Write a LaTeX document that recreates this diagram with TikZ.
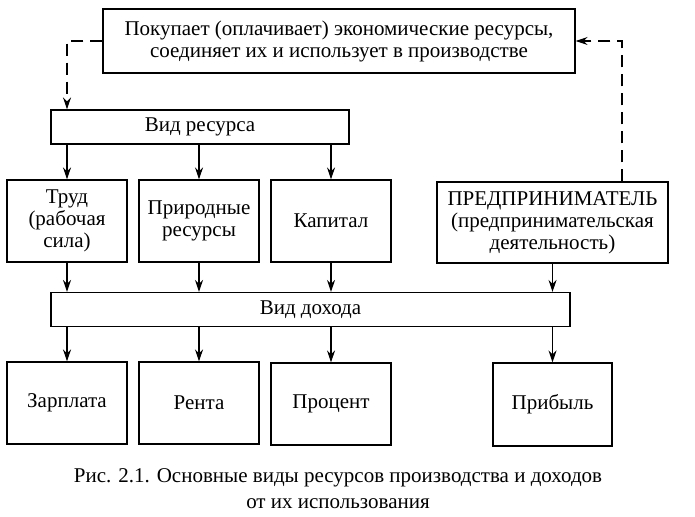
\documentclass[tikz,border=0pt]{standalone}
\usepackage{fontspec}
\setmainfont{Liberation Serif}
\usetikzlibrary{arrows.meta}
\tikzset{
  blok/.style={draw=black, line width=1.1pt, align=center, inner sep=0pt},
  strelka/.style={black, line width=1.1pt, -{Stealth[length=12pt,width=8pt]}},
  punktir/.style={black, line width=1.1pt, dash pattern=on 12pt off 7pt, -{Stealth[length=12pt,width=8pt]}}
}
\begin{document}
\begin{tikzpicture}[x=1pt, y=-1pt, font=\fontsize{21}{22}\selectfont]
\useasboundingbox (0,0) rectangle (695,516);
% verkhnii blok
\node[blok, minimum width=472pt, minimum height=64pt] (pokup) at (339,41)
  {Покупает (оплачивает) экономические ресурсы,\\соединяет их и использует в производстве};
\node[blok, minimum width=298pt, minimum height=34pt] (vidres) at (200,127) {Вид ресурса};
% resursy
\node[blok, minimum width=120pt, minimum height=82pt] (trud) at (67,221) {Труд\\(рабочая\\сила)};
\node[blok, minimum width=120pt, minimum height=82pt] (prir) at (199,221) {Природные\\ресурсы};
\node[blok, minimum width=120pt, minimum height=82pt] (kap) at (331,221) {Капитал};
\node[blok, minimum width=231pt, minimum height=81pt] (predp) at (552.5,222.5)
  {ПРЕДПРИНИМАТЕЛЬ\\(предпринимательская\\деятельность)};
\node[blok, minimum width=519pt, minimum height=34pt] (viddoh) at (310.5,309.5) {Вид дохода};
% dokhody
\node[blok, minimum width=120pt, minimum height=82pt] (zarp) at (67,403) {Зарплата};
\node[blok, minimum width=120pt, minimum height=82pt] (renta) at (199,403) {Рента};
\node[blok, minimum width=120pt, minimum height=82pt] (proc) at (331,404) {Процент};
\node[blok, minimum width=119pt, minimum height=83pt] (prib) at (552.5,404.5) {Прибыль};
\node[align=center, font=\fontsize{21}{26}\selectfont] (podpis) at (338,489)
  {Рис. 2.1. Основные виды ресурсов производства и доходов\\от их использования};
% strelki
\foreach \n in {trud,prir,kap}{
  \draw[strelka] (vidres.south -| \n.north) -- (\n.north);
}
\foreach \n in {trud,prir,kap,predp}{
  \draw[strelka] (\n.south) -- (viddoh.north -| \n.south);
}
\foreach \n in {zarp,renta,proc,prib}{
  \draw[strelka] (viddoh.south -| \n.north) -- (\n.north);
}
% punktir
\coordinate (povorot) at (622,41);
\draw[punktir] (pokup.west) -| (vidres.north -| trud.north);
\draw[punktir] (predp.north -| povorot) |- (pokup.east);
\end{tikzpicture}
\end{document}
